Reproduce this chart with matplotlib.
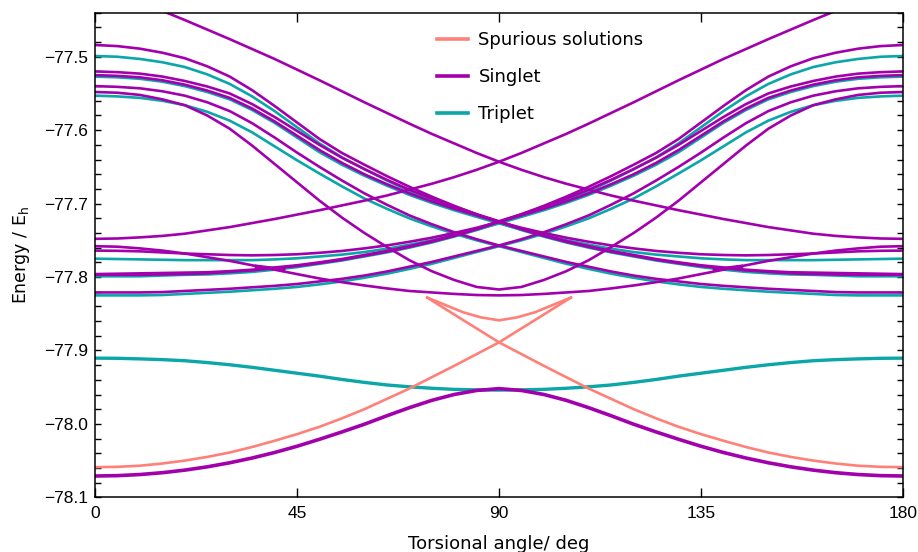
import numpy as np
import matplotlib
matplotlib.use("Agg")
import matplotlib.pyplot as plt
from matplotlib.ticker import MultipleLocator, FuncFormatter

# torsional angle grid (deg)
angle = np.arange(0, 181, 5)

# ---- singlet states (E_h) ----
s_ground = [-78.0710, -78.0705, -78.0690, -78.0665, -78.0630, -78.0585, -78.0530, -78.0465, -78.0390, -78.0305,
            -78.0210, -78.0110, -78.0005, -77.9890, -77.9780, -77.9680, -77.9600, -77.9545, -77.9520, -77.9545,
            -77.9600, -77.9680, -77.9780, -77.9890, -78.0005, -78.0110, -78.0210, -78.0305, -78.0390, -78.0465,
            -78.0530, -78.0585, -78.0630, -78.0665, -78.0690, -78.0705, -78.0710]
s_a = [-77.7480, -77.7475, -77.7460, -77.7440, -77.7410, -77.7365, -77.7320, -77.7265, -77.7210, -77.7150,
       -77.7090, -77.7025, -77.6960, -77.6890, -77.6810, -77.6730, -77.6640, -77.6540, -77.6430, -77.6310,
       -77.6180, -77.6050, -77.5910, -77.5765, -77.5620, -77.5470, -77.5320, -77.5175, -77.5030, -77.4895,
       -77.4760, -77.4630, -77.4500, -77.4375, -77.4250, -77.4125, -77.4000]
s_b = [-77.4000, -77.4125, -77.4250, -77.4375, -77.4500, -77.4630, -77.4760, -77.4895, -77.5030, -77.5175,
       -77.5320, -77.5470, -77.5620, -77.5765, -77.5910, -77.6050, -77.6180, -77.6310, -77.6430, -77.6540,
       -77.6640, -77.6730, -77.6810, -77.6890, -77.6960, -77.7025, -77.7090, -77.7150, -77.7210, -77.7265,
       -77.7320, -77.7365, -77.7410, -77.7440, -77.7460, -77.7475, -77.7480]
s_u = [-77.5480, -77.5490, -77.5520, -77.5580, -77.5660, -77.5800, -77.5980, -77.6210, -77.6460, -77.6710,
       -77.6960, -77.7190, -77.7400, -77.7590, -77.7770, -77.7920, -77.8040, -77.8135, -77.8170, -77.8135,
       -77.8040, -77.7920, -77.7770, -77.7590, -77.7400, -77.7190, -77.6960, -77.6710, -77.6460, -77.6210,
       -77.5980, -77.5800, -77.5660, -77.5580, -77.5520, -77.5490, -77.5480]
s_flat = [-77.7580, -77.7587, -77.7610, -77.7640, -77.7680, -77.7730, -77.7780, -77.7840, -77.7900, -77.7960,
          -77.8020, -77.8070, -77.8115, -77.8155, -77.8190, -77.8210, -77.8230, -77.8245, -77.8250, -77.8245,
          -77.8230, -77.8210, -77.8190, -77.8155, -77.8115, -77.8070, -77.8020, -77.7960, -77.7900, -77.7840,
          -77.7780, -77.7730, -77.7680, -77.7640, -77.7610, -77.7587, -77.7580]
s_1 = [-77.4840, -77.4855, -77.4890, -77.4945, -77.5020, -77.5130, -77.5270, -77.5455, -77.5670, -77.5895,
       -77.6120, -77.6310, -77.6470, -77.6625, -77.6770, -77.6905, -77.7030, -77.7145, -77.7250, -77.7350,
       -77.7440, -77.7520, -77.7590, -77.7655, -77.7710, -77.7765, -77.7810, -77.7850, -77.7880, -77.7910,
       -77.7930, -77.7950, -77.7960, -77.7965, -77.7970, -77.7970, -77.7970]
s_1r = [-77.7970, -77.7970, -77.7970, -77.7965, -77.7960, -77.7950, -77.7930, -77.7910, -77.7880, -77.7850,
        -77.7810, -77.7765, -77.7710, -77.7655, -77.7590, -77.7520, -77.7440, -77.7350, -77.7250, -77.7145,
        -77.7030, -77.6905, -77.6770, -77.6625, -77.6470, -77.6310, -77.6120, -77.5895, -77.5670, -77.5455,
        -77.5270, -77.5130, -77.5020, -77.4945, -77.4890, -77.4855, -77.4840]
s_2 = [-77.5200, -77.5210, -77.5230, -77.5270, -77.5330, -77.5405, -77.5500, -77.5645, -77.5820, -77.6010,
       -77.6200, -77.6375, -77.6530, -77.6675, -77.6810, -77.6930, -77.7040, -77.7145, -77.7240, -77.7340,
       -77.7430, -77.7510, -77.7580, -77.7645, -77.7700, -77.7755, -77.7800, -77.7840, -77.7870, -77.7900,
       -77.7920, -77.7935, -77.7940, -77.7945, -77.7950, -77.7955, -77.7960]
s_2r = [-77.7960, -77.7955, -77.7950, -77.7945, -77.7940, -77.7935, -77.7920, -77.7900, -77.7870, -77.7840,
        -77.7800, -77.7755, -77.7700, -77.7645, -77.7580, -77.7510, -77.7430, -77.7340, -77.7240, -77.7145,
        -77.7040, -77.6930, -77.6810, -77.6675, -77.6530, -77.6375, -77.6200, -77.6010, -77.5820, -77.5645,
        -77.5500, -77.5405, -77.5330, -77.5270, -77.5230, -77.5210, -77.5200]
s_3 = [-77.5250, -77.5260, -77.5280, -77.5320, -77.5380, -77.5460, -77.5560, -77.5705, -77.5880, -77.6075,
       -77.6270, -77.6445, -77.6600, -77.6735, -77.6860, -77.6970, -77.7070, -77.7160, -77.7250, -77.7330,
       -77.7400, -77.7465, -77.7520, -77.7570, -77.7610, -77.7645, -77.7670, -77.7690, -77.7700, -77.7705,
       -77.7700, -77.7690, -77.7680, -77.7665, -77.7650, -77.7643, -77.7640]
s_3r = [-77.7640, -77.7643, -77.7650, -77.7665, -77.7680, -77.7690, -77.7700, -77.7705, -77.7700, -77.7690,
        -77.7670, -77.7645, -77.7610, -77.7570, -77.7520, -77.7465, -77.7400, -77.7330, -77.7250, -77.7160,
        -77.7070, -77.6970, -77.6860, -77.6735, -77.6600, -77.6445, -77.6270, -77.6075, -77.5880, -77.5705,
        -77.5560, -77.5460, -77.5380, -77.5320, -77.5280, -77.5260, -77.5250]
s_4 = [-77.5400, -77.5410, -77.5430, -77.5470, -77.5530, -77.5620, -77.5740, -77.5905, -77.6100, -77.6305,
       -77.6500, -77.6685, -77.6860, -77.7015, -77.7160, -77.7280, -77.7390, -77.7485, -77.7570, -77.7645,
       -77.7720, -77.7795, -77.7860, -77.7925, -77.7980, -77.8025, -77.8060, -77.8095, -77.8120, -77.8140,
       -77.8160, -77.8175, -77.8190, -77.8205, -77.8210, -77.8210, -77.8210]
s_4r = [-77.8210, -77.8210, -77.8210, -77.8205, -77.8190, -77.8175, -77.8160, -77.8140, -77.8120, -77.8095,
        -77.8060, -77.8025, -77.7980, -77.7925, -77.7860, -77.7795, -77.7720, -77.7645, -77.7570, -77.7485,
        -77.7390, -77.7280, -77.7160, -77.7015, -77.6860, -77.6685, -77.6500, -77.6305, -77.6100, -77.5905,
        -77.5740, -77.5620, -77.5530, -77.5470, -77.5430, -77.5410, -77.5400]

# short singlet pieces (partially converged points)
piece1_angle = [36, 42]
piece1 = [-77.7855, -77.7900]
piece2_angle = [138, 144]
piece2 = [-77.7900, -77.7855]

# ---- triplet states (E_h) ----
t_low = [-77.9105, -77.9107, -77.9115, -77.9125, -77.9140, -77.9165, -77.9195, -77.9230, -77.9270, -77.9310,
         -77.9350, -77.9395, -77.9435, -77.9470, -77.9495, -77.9515, -77.9530, -77.9537, -77.9540, -77.9537,
         -77.9530, -77.9515, -77.9495, -77.9470, -77.9435, -77.9395, -77.9350, -77.9310, -77.9270, -77.9230,
         -77.9195, -77.9165, -77.9140, -77.9125, -77.9115, -77.9107, -77.9105]
t_1 = [-77.4990, -77.5000, -77.5030, -77.5075, -77.5140, -77.5240, -77.5370, -77.5540, -77.5740, -77.5960,
       -77.6180, -77.6370, -77.6530, -77.6685, -77.6830, -77.6955, -77.7070, -77.7170, -77.7260, -77.7360,
       -77.7450, -77.7530, -77.7600, -77.7665, -77.7720, -77.7775, -77.7820, -77.7865, -77.7900, -77.7930,
       -77.7950, -77.7965, -77.7970, -77.7980, -77.7990, -77.7990, -77.7990]
t_1r = [-77.7990, -77.7990, -77.7990, -77.7980, -77.7970, -77.7965, -77.7950, -77.7930, -77.7900, -77.7865,
        -77.7820, -77.7775, -77.7720, -77.7665, -77.7600, -77.7530, -77.7450, -77.7360, -77.7260, -77.7170,
        -77.7070, -77.6955, -77.6830, -77.6685, -77.6530, -77.6370, -77.6180, -77.5960, -77.5740, -77.5540,
        -77.5370, -77.5240, -77.5140, -77.5075, -77.5030, -77.5000, -77.4990]
t_2 = [-77.5270, -77.5280, -77.5300, -77.5340, -77.5400, -77.5480, -77.5580, -77.5725, -77.5900, -77.6100,
       -77.6300, -77.6470, -77.6620, -77.6755, -77.6880, -77.6990, -77.7090, -77.7180, -77.7270, -77.7355,
       -77.7430, -77.7500, -77.7560, -77.7615, -77.7660, -77.7695, -77.7720, -77.7745, -77.7760, -77.7770,
       -77.7770, -77.7770, -77.7770, -77.7765, -77.7760, -77.7755, -77.7750]
t_2r = [-77.7750, -77.7755, -77.7760, -77.7765, -77.7770, -77.7770, -77.7770, -77.7770, -77.7760, -77.7745,
        -77.7720, -77.7695, -77.7660, -77.7615, -77.7560, -77.7500, -77.7430, -77.7355, -77.7270, -77.7180,
        -77.7090, -77.6990, -77.6880, -77.6755, -77.6620, -77.6470, -77.6300, -77.6100, -77.5900, -77.5725,
        -77.5580, -77.5480, -77.5400, -77.5340, -77.5300, -77.5280, -77.5270]
t_3 = [-77.5530, -77.5540, -77.5560, -77.5600, -77.5660, -77.5750, -77.5870, -77.6030, -77.6220, -77.6410,
       -77.6590, -77.6765, -77.6930, -77.7070, -77.7200, -77.7310, -77.7410, -77.7500, -77.7580, -77.7660,
       -77.7740, -77.7820, -77.7890, -77.7955, -77.8010, -77.8060, -77.8100, -77.8135, -77.8160, -77.8180,
       -77.8200, -77.8215, -77.8230, -77.8245, -77.8250, -77.8250, -77.8250]
t_3r = [-77.8250, -77.8250, -77.8250, -77.8245, -77.8230, -77.8215, -77.8200, -77.8180, -77.8160, -77.8135,
        -77.8100, -77.8060, -77.8010, -77.7955, -77.7890, -77.7820, -77.7740, -77.7660, -77.7580, -77.7500,
        -77.7410, -77.7310, -77.7200, -77.7070, -77.6930, -77.6765, -77.6590, -77.6410, -77.6220, -77.6030,
        -77.5870, -77.5750, -77.5660, -77.5600, -77.5560, -77.5540, -77.5530]

# ---- spurious solutions ----
sp1_angle = [0, 5, 10, 15, 20, 25, 30, 35, 40, 45, 50, 55, 60, 65, 70, 75, 80, 85, 90, 95, 100, 106]
sp1 = [-78.059, -78.0585, -78.057, -78.054, -78.050, -78.045, -78.039, -78.0315, -78.023, -78.014, -78.004,
       -77.9925, -77.980, -77.966, -77.952, -77.9365, -77.921, -77.905, -77.889, -77.870, -77.851, -77.828]
sp2_angle = [74, 80, 85, 90, 95, 100, 105, 110, 115, 120, 125, 130, 135, 140, 145, 150, 155, 160, 165, 170, 175, 180]
sp2 = [-77.828, -77.851, -77.870, -77.889, -77.905, -77.921, -77.9365, -77.952, -77.966, -77.980, -77.9925,
       -78.004, -78.014, -78.023, -78.0315, -78.039, -78.045, -78.050, -78.054, -78.057, -78.0585, -78.059]
sp3_angle = [74, 78, 82, 86, 90, 94, 98, 102, 106]
sp3 = [-77.828, -77.838, -77.848, -77.855, -77.859, -77.855, -77.848, -77.838, -77.828]

singlets = [s_a, s_b, s_u, s_flat, s_1, s_1r, s_2, s_2r, s_3, s_3r, s_4, s_4r]
triplets = [t_1, t_1r, t_2, t_2r, t_3, t_3r]

c_sing = "#a300ad"
c_trip = "#0aa6a8"
c_spur = "#ff8078"

fig = plt.figure(figsize=(9.18, 5.52), dpi=100)
ax = fig.add_axes([0.1035, 0.0991, 0.8802, 0.8779])

lw = 1.9
for e in triplets:
    ax.plot(angle, e, color=c_trip, lw=lw)
for e in singlets:
    ax.plot(angle, e, color=c_sing, lw=lw)
ax.plot(piece1_angle, piece1, color=c_sing, lw=2.6)
ax.plot(piece2_angle, piece2, color=c_sing, lw=2.6)
ax.plot(angle, t_low, color=c_trip, lw=2.4)
ax.plot(angle, s_ground, color=c_sing, lw=2.6)
ax.plot(sp1_angle, sp1, color=c_spur, lw=lw)
ax.plot(sp2_angle, sp2, color=c_spur, lw=lw)
ax.plot(sp3_angle, sp3, color=c_spur, lw=lw)

# legend handles
h1, = ax.plot([], [], color=c_spur, lw=2.6, label="Spurious solutions")
h2, = ax.plot([], [], color=c_sing, lw=2.6, label="Singlet")
h3, = ax.plot([], [], color=c_trip, lw=2.6, label="Triplet")
ax.legend(handles=[h1, h2, h3], loc="upper left", bbox_to_anchor=(0.403, 0.995),
          frameon=False, handlelength=1.75, handletextpad=0.55,
          labelspacing=1.05, prop={"family": "DejaVu Sans", "size": 13})

ax.set_xlim(0, 180)
ax.set_ylim(-78.1, -77.44)
ax.set_xticks([0, 45, 90, 135, 180])
ax.yaxis.set_major_locator(MultipleLocator(0.1))
ax.yaxis.set_minor_locator(MultipleLocator(0.02))
ax.yaxis.set_major_formatter(FuncFormatter(lambda v, p: ("%.1f" % v).replace("-", "\u2212")))
ax.tick_params(axis="both", which="both", direction="in", top=True, right=True, width=1.0)
ax.tick_params(axis="x", which="major", length=6.5, pad=6)
ax.tick_params(axis="y", which="major", length=4.5, pad=5)
ax.tick_params(axis="y", which="minor", length=4)
for lab in ax.get_xticklabels() + ax.get_yticklabels():
    lab.set_fontfamily("Liberation Sans")
    lab.set_fontsize(12.5)
for sp in ax.spines.values():
    sp.set_linewidth(1.1)

ax.set_xlabel("Torsional angle/ deg", fontsize=13, family="DejaVu Sans", labelpad=10)
ax.set_ylabel(r"Energy / E$_\mathrm{h}$", fontsize=12.5, family="DejaVu Sans", labelpad=9)

fig.savefig("out.png", dpi=100)
